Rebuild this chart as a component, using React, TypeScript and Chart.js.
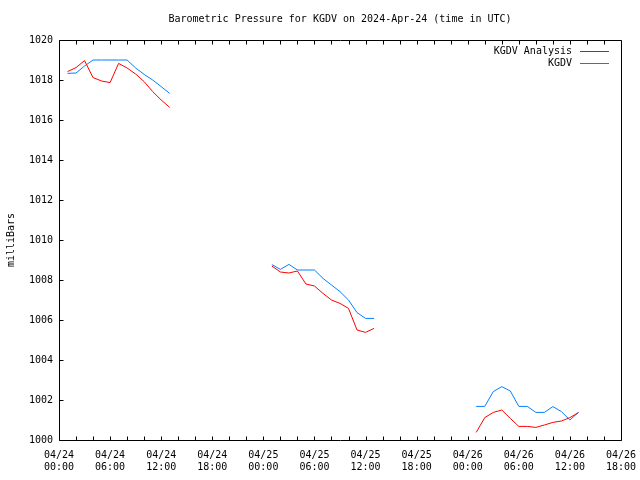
import { useEffect, useRef } from 'react';
import { Chart, registerables } from 'chart.js';

Chart.register(...registerables);

const chartTitle = 'Barometric Pressure for KGDV on 2024-Apr-24 (time in UTC)';
const yAxisTitle = 'milliBars';

// hours since 2024-04-24 00:00 UTC (null rows at 19 and 43 break the line)
const hoursUTC = [
  1, 2, 3, 4, 5, 6, 7, 8, 9, 10, 11, 12, 13, 19,
  25, 26, 27, 28, 29, 30, 31, 32, 33, 34, 35, 36, 37, 43,
  49, 50, 51, 52, 53, 54, 55, 56, 57, 58, 59, 60, 61,
];

const analysisValues = [
  1018.42, 1018.62, 1018.97, 1018.12, 1017.95, 1017.87, 1018.83, 1018.6, 1018.3, 1017.92, 1017.42, 1017.0, 1016.63, null,
  1008.7, 1008.4, 1008.35, 1008.45, 1007.8, 1007.7, 1007.33, 1007.0, 1006.83, 1006.58, 1005.5, 1005.38, 1005.58, null,
  1000.38, 1001.12, 1001.38, 1001.5, 1001.08, 1000.68, 1000.68, 1000.63, 1000.75, 1000.88, 1000.95, 1001.12, 1001.37,
];

const kgdvValues = [
  1018.33, 1018.35, 1018.7, 1019.0, 1019.0, 1019.0, 1019.0, 1019.0, 1018.6, 1018.28, 1018.0, 1017.67, 1017.33, null,
  1008.77, 1008.53, 1008.78, 1008.5, 1008.5, 1008.5, 1008.08, 1007.75, 1007.42, 1007.0, 1006.37, 1006.08, 1006.08, null,
  1001.68, 1001.68, 1002.42, 1002.67, 1002.45, 1001.68, 1001.68, 1001.38, 1001.38, 1001.67, 1001.42, 1001.0, 1001.38,
];

const tickDates = ['04/24', '04/24', '04/24', '04/24', '04/25', '04/25', '04/25', '04/25', '04/26', '04/26', '04/26', '04/26'];
const tickTimes = ['00:00', '06:00', '12:00', '18:00', '00:00', '06:00', '12:00', '18:00', '00:00', '06:00', '12:00', '18:00'];

const FONT = "'DejaVu Sans Mono', monospace";
const FONT_SIZE = 10;

const framePlugin = {
  id: 'gnuplotFrame',
  afterDraw(chart: any) {
    const { ctx, chartArea } = chart;
    const { left, right, top, bottom } = chartArea;
    ctx.save();
    ctx.strokeStyle = '#000';
    ctx.lineWidth = 1;
    const L = Math.round(left) + 0.5;
    const R = Math.round(right) + 0.5;
    const T = Math.round(top) + 0.5;
    const B = Math.round(bottom) + 0.5;
    ctx.beginPath();
    ctx.rect(L, T, R - L, B - T);
    ctx.stroke();
    // x ticks (bottom and top, inward)
    const xs = chart.scales.x;
    ctx.beginPath();
    xs.ticks.forEach((t: any) => {
      const px = Math.round(xs.getPixelForValue(t.value)) + 0.5;
      ctx.moveTo(px, B);
      ctx.lineTo(px, B - 4);
      ctx.moveTo(px, T);
      ctx.lineTo(px, T + 4);
    });
    // y ticks (left, inward)
    const ys = chart.scales.y;
    ys.ticks.forEach((t: any) => {
      const py = Math.round(ys.getPixelForValue(t.value)) + 0.5;
      ctx.moveTo(L, py);
      ctx.lineTo(L + 4, py);
    });
    ctx.stroke();

    // title
    ctx.fillStyle = '#000';
    ctx.font = `${FONT_SIZE}px ${FONT}`;
    ctx.textAlign = 'center';
    ctx.textBaseline = 'middle';
    ctx.fillText(chartTitle, (left + right) / 2, 19);

    // legend (text right-aligned, line sample at right)
    const lineRight = Math.round(right) - 12;
    const lineLeft = lineRight - 29;
    chart.data.datasets.forEach((ds: any, i: number) => {
      const y = Math.round(top) + 11 + i * 12;
      ctx.fillStyle = '#000';
      ctx.textAlign = 'right';
      ctx.fillText(ds.label, lineLeft - 8, y);
      ctx.strokeStyle = ds.borderColor;
      ctx.beginPath();
      ctx.moveTo(lineLeft, y + 0.5);
      ctx.lineTo(lineRight, y + 0.5);
      ctx.stroke();
    });
    ctx.restore();
  },
};

export default function App() {
  const canvasRef = useRef<HTMLCanvasElement | null>(null);

  useEffect(() => {
    if (!canvasRef.current) return;
    const toPoints = (vals: (number | null)[]) => hoursUTC.map((h, i) => ({ x: h, y: vals[i] }));
    const chart = new Chart(canvasRef.current, {
      type: 'line',
      data: {
        datasets: [
          {
            label: 'KGDV Analysis',
            data: toPoints(analysisValues) as any,
            borderColor: '#ff0000',
            borderWidth: 1,
            pointRadius: 0,
            tension: 0,
            spanGaps: false,
          },
          {
            label: 'KGDV',
            data: toPoints(kgdvValues) as any,
            borderColor: '#0080ff',
            borderWidth: 1,
            pointRadius: 0,
            tension: 0,
            spanGaps: false,
          },
        ],
      },
      options: {
        responsive: false,
        animation: false,
        layout: { padding: { top: 40, right: 19, left: 0, bottom: 0 } },
        plugins: {
          legend: { display: false },
          title: { display: false },
          tooltip: { enabled: false },
        },
        scales: {
          x: {
            type: 'linear',
            min: 0,
            max: 66,
            grid: { display: false, drawTicks: false },
            border: { display: false },
            afterFit: (scale: any) => {
              scale.height = 40;
              scale.paddingLeft = 0;
              scale.paddingRight = 0;
            },
            ticks: {
              stepSize: 2,
              autoSkip: false,
              maxRotation: 0,
              padding: 9,
              color: '#000',
              font: { family: FONT, size: FONT_SIZE },
              callback: (value: any) => {
                const v = Number(value);
                if (v % 6 !== 0) return '';
                const idx = v / 6;
                return [tickDates[idx], tickTimes[idx]];
              },
            },
          },
          y: {
            min: 1000,
            max: 1020,
            grid: { display: false, drawTicks: false },
            border: { display: false },
            afterFit: (scale: any) => {
              scale.width = 59;
              scale.paddingTop = 0;
              scale.paddingBottom = 0;
            },
            title: {
              display: true,
              text: yAxisTitle,
              color: '#000',
              font: { family: FONT, size: FONT_SIZE },
              padding: { top: 5, bottom: 0 },
            },
            ticks: {
              stepSize: 2,
              padding: 6,
              color: '#000',
              font: { family: FONT, size: FONT_SIZE },
              callback: (value: any) => String(value),
            },
          },
        },
      },
      plugins: [framePlugin],
    });
    return () => chart.destroy();
  }, []);

  return (
    <div style={{ position: 'fixed', left: 0, top: 0, width: 640, height: 480, background: '#fff' }}>
      <canvas ref={canvasRef} width={640} height={480} />
    </div>
  );
}
